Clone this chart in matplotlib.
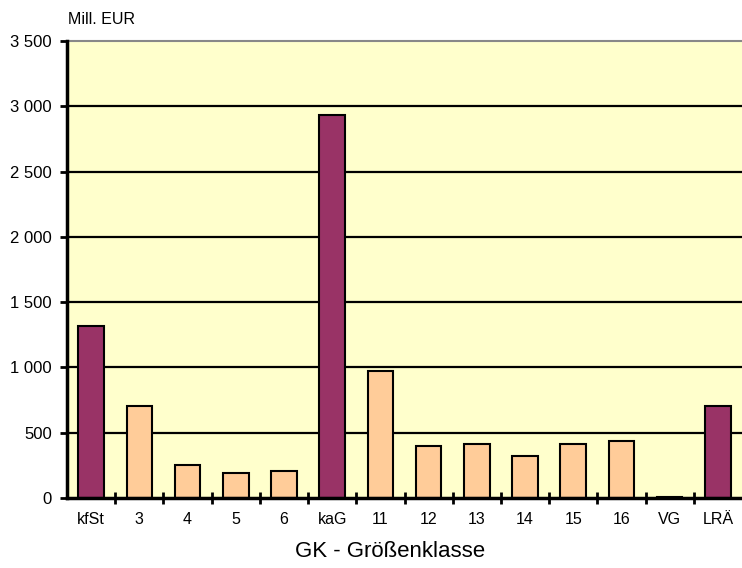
import matplotlib
matplotlib.use("Agg")
import matplotlib.pyplot as plt
from matplotlib.ticker import FixedLocator, FuncFormatter
import numpy as np

# Daten (Mill. EUR je Größenklasse)
categories = ["kfSt", "3", "4", "5", "6", "kaG", "11", "12", "13", "14", "15", "16", "VG", "LRÄ"]
values = [1320, 705, 250, 195, 205, 2930, 975, 400, 410, 325, 415, 440, 10, 705]
highlight = ["kfSt", "kaG", "LRÄ"]

purple = "#993366"
peach = "#FFCC99"
bg = "#FFFFCC"

plt.rcParams['font.family'] = ['Liberation Sans', 'DejaVu Sans']

fig = plt.figure(figsize=(7.42, 5.68), dpi=100)
ax = fig.add_axes([0.0903, 0.1232, 0.9097, 0.8046])
ax.set_facecolor(bg)

x = np.arange(len(categories))
colors = [purple if c in highlight else peach for c in categories]
ax.bar(x, values, width=0.53, color=colors, edgecolor="black", linewidth=1.5, zorder=3)

ax.set_xlim(-0.5, len(categories) - 0.5)
ax.set_ylim(0, 3500)

# Gitterlinien
yt = np.arange(0, 3501, 500)
ax.yaxis.set_major_locator(FixedLocator(yt))
ax.yaxis.set_major_formatter(FuncFormatter(lambda v, p: f"{int(v):,}".replace(",", " ")))
for v in yt[1:-1]:
    ax.axhline(v, color="black", linewidth=1.6, zorder=1)

ax.spines['left'].set_linewidth(2.5)
ax.spines['bottom'].set_linewidth(2.5)
ax.spines['top'].set_color("#888888")
ax.spines['top'].set_linewidth(1.5)
ax.spines['right'].set_visible(False)
for s in ['left', 'bottom']:
    ax.spines[s].set_zorder(4)

ax.tick_params(axis='y', direction='out', length=5, width=2, labelsize=12, pad=6)

# x: Striche an den Klassengrenzen, Beschriftung mittig
ax.set_xticks(x)
ax.set_xticklabels(categories, fontsize=11.5)
ax.tick_params(axis='x', which='major', length=0, pad=10)
ax.set_xticks(np.arange(0.5, len(categories) - 0.5, 1), minor=True)
ax.tick_params(axis='x', which='minor', direction='inout', length=9, width=2)

ax.text(0.002, 1.03, "Mill. EUR", transform=ax.transAxes, fontsize=11.5, ha='left', va='bottom')
ax.set_xlabel("GK - Größenklasse", fontsize=16)
ax.xaxis.set_label_coords(0.478, -0.095)

fig.savefig("out.png", dpi=100)
